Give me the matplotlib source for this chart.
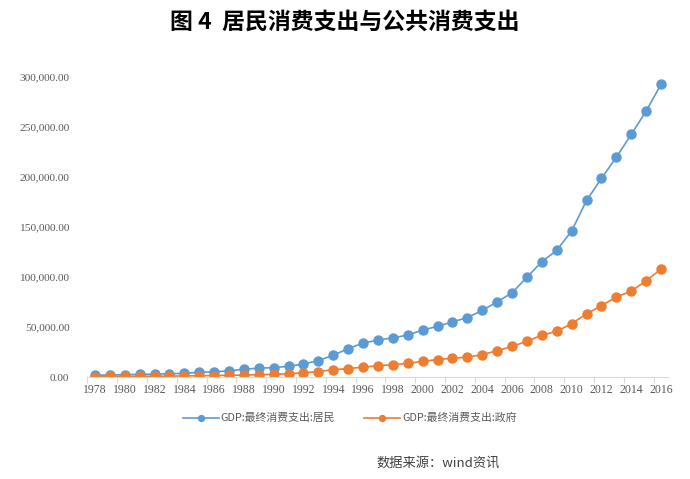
import numpy as np
import matplotlib
matplotlib.use("Agg")
from matplotlib import pyplot as plt
from matplotlib.ticker import FixedLocator, FuncFormatter

plt.rcParams['font.family'] = ['Noto Sans CJK SC', 'DejaVu Sans']

years = list(range(1978, 2017))

# GDP:最终消费支出:居民 (亿元)
resident = [1759, 2011, 2331, 2628, 2902, 3231, 3742, 4687, 5302, 6126,
            7868, 8813, 9450, 10730, 13000, 16412, 21844, 28370, 33956, 36922,
            39229, 41920, 46988, 50709, 55077, 59452, 66587, 75232, 84119, 99793,
            115338, 126661, 146058, 176532, 198537, 219763, 242540, 265980, 292661]

# GDP:最终消费支出:政府 (亿元)
government = [480, 622, 676, 733, 812, 895, 1104, 1298, 1519, 1678,
              1971, 2352, 2640, 3361, 4203, 5487, 7398, 8378, 9964, 11219,
              12359, 13717, 15661, 17498, 18760, 19916, 22335, 26399, 30528, 35900,
              41752, 45690, 53356, 63155, 71409, 79978, 85890, 96286, 107913]

yticks = [0, 50000, 100000, 150000, 200000, 250000, 300000]

title = '图 4  居民消费支出与公共消费支出'
label_res = 'GDP:最终消费支出:居民'
label_gov = 'GDP:最终消费支出:政府'
source = '数据来源：wind资讯'

blue = '#5B9BD5'
orange = '#ED7D31'
grey = '#595959'

fig = plt.figure(figsize=(6.9, 4.79), dpi=100)
ax = fig.add_axes([0.1268, 0.2129, 0.842, 0.6263])

x = np.arange(len(years))
ax.plot(x, resident, color=blue, lw=1.2, marker='o', ms=6.5, label=label_res)
ax.plot(x, government, color=orange, lw=1.2, marker='o', ms=6.5, label=label_gov)

ax.set_xlim(-0.5, len(years) - 0.5)
ax.set_ylim(0, 300000)

for s in ['top', 'right', 'left']:
    ax.spines[s].set_visible(False)
ax.spines['bottom'].set_color('#d9d9d9')
ax.spines['bottom'].set_linewidth(0.8)

# labels every 2 years, ticks between categories
ax.set_xticks(x[::2])
ax.set_xticklabels([str(y) for y in years[::2]], family='Liberation Serif',
                   fontsize=8.5, color=grey)
ax.tick_params(axis='x', which='major', length=0, pad=5)
ax.xaxis.set_minor_locator(FixedLocator(np.arange(-0.5, len(years), 2)))
ax.tick_params(axis='x', which='minor', length=4, color='#d9d9d9', width=0.8)

ax.set_yticks(yticks)
ax.yaxis.set_major_formatter(FuncFormatter(lambda v, p: f'{v:,.2f}'))
ax.tick_params(axis='y', length=0, pad=13, labelsize=8.2, labelcolor=grey)
for lab in ax.get_yticklabels():
    lab.set_family('Liberation Serif')

fig.text(0.5, 0.954, title, ha='center', va='center', fontsize=16.5, fontweight='bold')

leg = fig.legend(loc='center', bbox_to_anchor=(0.507, 0.127), ncol=2, frameon=False,
                 fontsize=7.8, handlelength=3.3, columnspacing=2.7, handletextpad=0.2,
                 markerscale=0.65)
for t in leg.get_texts():
    t.set_color(grey)

fig.text(0.545, 0.033, source, ha='left', va='center', fontsize=9.5,
         color='#404040', style='italic')

plt.savefig('out.png', dpi=100)
plt.close()
